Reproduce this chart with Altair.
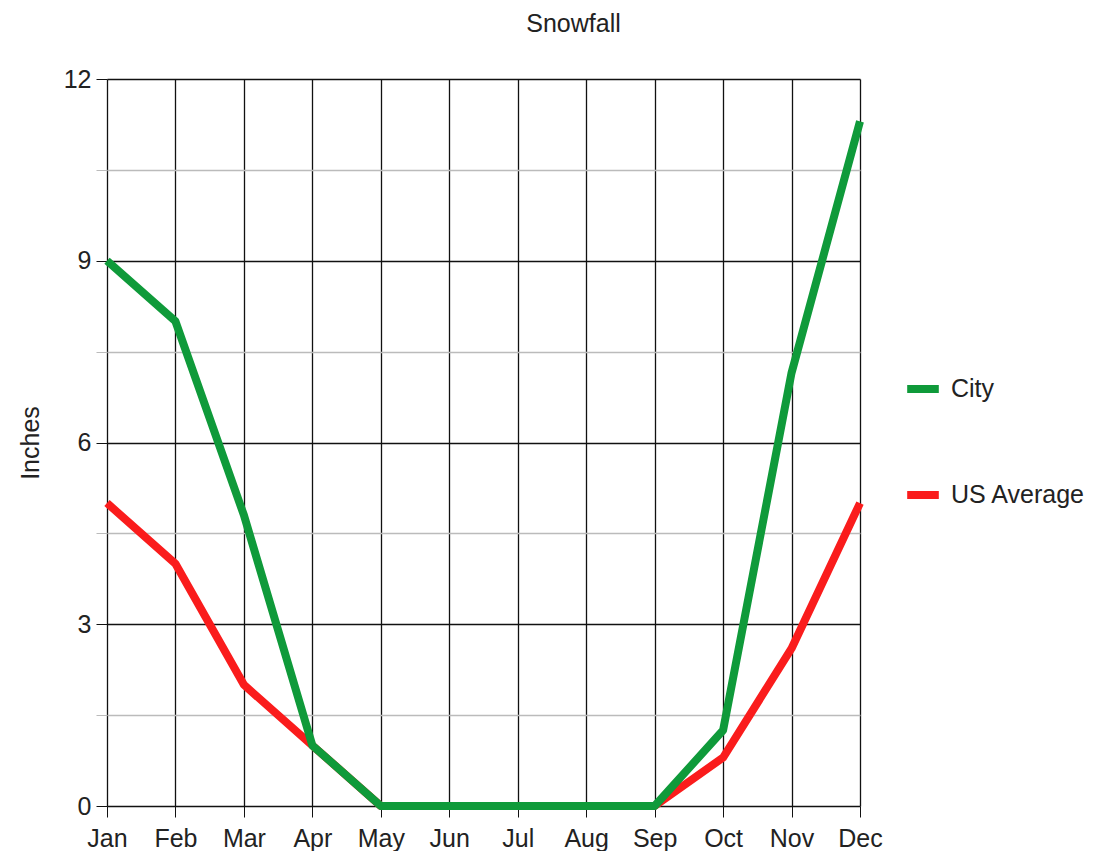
import altair as alt
import pandas as pd

months = ["Jan", "Feb", "Mar", "Apr", "May", "Jun", "Jul", "Aug", "Sep", "Oct", "Nov", "Dec"]
city = [9, 8, 4.8, 1, 0, 0, 0, 0, 0, 1.25, 7.15, 11.3]
us_avg = [5, 4, 2, 1, 0, 0, 0, 0, 0, 0.8, 2.6, 5]
series = ["City", "US Average"]
colors = ["#0f9a3a", "#fa1c1c"]
y_ticks = [0, 1.5, 3, 4.5, 6, 7.5, 9, 10.5, 12]

rows = []
for m, c, u in zip(months, city, us_avg):
    rows.append({"month": m, "value": c, "series": "City"})
    rows.append({"month": m, "value": u, "series": "US Average"})
df = pd.DataFrame(rows)

FONT = "Liberation Sans"
FS = 25

x_enc = alt.X(
    "month:O",
    sort=months,
    scale=alt.Scale(domain=months, padding=0),
    axis=alt.Axis(
        title=None,
        labelAngle=0,
        labelFontSize=FS,
        labelFont=FONT,
        labelColor="#222",
        labelPadding=9,
        tickColor="#111",
        tickSize=11,
        grid=True,
        gridColor="#111",
        gridWidth=1.3,
        domain=False,
    ),
)
y_enc = alt.Y(
    "value:Q",
    scale=alt.Scale(domain=[0, 12], nice=False),
    axis=alt.Axis(
        title="Inches",
        titleFont=FONT,
        titleFontSize=FS,
        titleFontWeight="normal",
        titleColor="#222",
        titlePadding=20,
        values=y_ticks,
        labelExpr="datum.value % 3 == 0 ? datum.label : ''",
        labelFontSize=FS,
        labelFont=FONT,
        labelColor="#222",
        labelPadding=5,
        tickSize=11,
        tickColor={"condition": {"test": "datum.value % 3 == 0", "value": "#111"}, "value": "#bbbbbb"},
        grid=True,
        gridColor={"condition": {"test": "datum.value % 3 == 0", "value": "#111"}, "value": "#bbbbbb"},
        gridWidth=1.3,
        domain=False,
    ),
)
color_enc = alt.Color(
    "series:N",
    scale=alt.Scale(domain=series, range=colors),
    legend=alt.Legend(
        title=None,
        orient="none",
        legendX=796,
        legendY=290,
        symbolType="stroke",
        symbolSize=1000,
        symbolStrokeWidth=8,
        labelFont=FONT,
        labelFontSize=FS,
        labelColor="#222",
        labelOffset=8,
        rowPadding=70,
    ),
)

base = alt.Chart(df).mark_line(strokeWidth=8, strokeJoin="round", strokeCap="butt")
us_line = base.transform_filter(alt.datum.series == "US Average").encode(x=x_enc, y=y_enc, color=color_enc)
city_line = base.transform_filter(alt.datum.series == "City").encode(x=x_enc, y=y_enc, color=color_enc)

chart = (
    alt.layer(us_line, city_line)
    .properties(
        width=753,
        height=727,
        title=alt.TitleParams(
            "Snowfall",
            font=FONT,
            fontSize=FS,
            fontWeight="normal",
            color="#222",
            dx=90,
            offset=30,
        ),
        autosize=alt.AutoSizeParams(type="none"),
        padding={"left": 99, "top": 71, "right": 245, "bottom": 45},
    )
    .configure_view(stroke=None)
)

chart.save("out.html", embed_options={"renderer": "svg", "actions": False})
